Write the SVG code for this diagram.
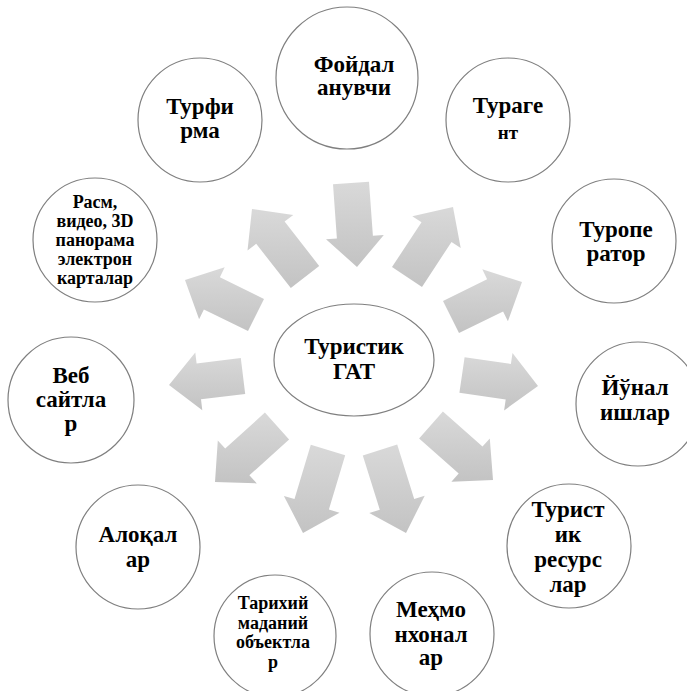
<svg xmlns="http://www.w3.org/2000/svg" width="687" height="691" viewBox="0 0 687 691">
<defs>
<linearGradient id="g" x1="0" y1="0" x2="0" y2="1">
<stop offset="0" stop-color="#d9d9d9"/>
<stop offset="1" stop-color="#c3c3c3"/>
</linearGradient>
</defs>
<style>
.n{fill:#fff;stroke:#7f7f7f;stroke-width:1.2}
.t{font-weight:bold;font-size:23px;fill:#000;text-anchor:middle}
.s{font-size:18px}
.h{font-size:19px}
.r{font-size:18px}
.a{fill:url(#g);stroke:none}
</style>
<rect width="687" height="691" fill="#fff"/>
<g id="connectors">
<polygon class="a" points="333.0,184.3 336.9,238.4 326.0,239.2 357,267 383.8,235.0 372.9,235.8 369.0,181.7"/>
<polygon class="a" points="422.0,286.9 451.5,242.0 460.7,248.0 453,207 412.3,216.2 421.5,222.2 392.0,267.1"/>
<polygon class="a" points="459.0,333.1 503.1,311.4 507.9,321.3 522,282 482.3,269.3 487.1,279.2 443.0,300.9"/>
<polygon class="a" points="459.4,392.8 505.7,399.5 504.1,410.4 538,386 512.5,353.0 510.9,363.9 464.6,357.2"/>
<polygon class="a" points="419.1,438.5 458.7,473.6 451.4,481.8 493,480 489.8,438.4 482.5,446.6 442.9,411.5"/>
<polygon class="a" points="362.8,455.4 379.8,509.8 369.3,513.1 406,533 424.7,495.7 414.2,499.0 397.2,444.6"/>
<polygon class="a" points="310.8,444.8 294.5,499.1 283.9,495.9 303,533 339.5,512.7 328.9,509.5 345.2,455.2"/>
<polygon class="a" points="264.9,412.6 225.2,448.5 217.8,440.4 215,482 256.8,483.4 249.4,475.3 289.1,439.4"/>
<polygon class="a" points="240.8,358.1 196.6,363.5 195.3,352.6 169,385 202.3,410.2 201.0,399.3 245.2,393.9"/>
<polygon class="a" points="264.0,298.9 219.9,277.2 224.7,267.3 185,280 199.1,319.3 203.9,309.4 248.0,331.1"/>
<polygon class="a" points="319.2,265.9 284.6,221.6 293.3,214.9 252,209 247.5,250.5 256.2,243.8 290.8,288.1"/>
</g>
<g font-family="'Liberation Serif', 'Times New Roman', Times, serif">
<g id="center">
<ellipse class="n" cx="354" cy="360" rx="80" ry="56"/>
<text class="t" x="354" y="354">Туристик</text>
<text class="t" x="354" y="379">ГАТ</text>
</g>
<g id="foydalanuvchi">
<circle class="n" cx="347" cy="78" r="71"/>
<text class="t" x="354" y="72">Фойдал</text>
<text class="t" x="354" y="95">анувчи</text>
</g>
<g id="turagent">
<circle class="n" cx="508" cy="120" r="62"/>
<text class="t" x="508" y="113">Тураге</text>
<text class="t h" x="508" y="139">нт</text>
</g>
<g id="turoperator">
<circle class="n" cx="614" cy="241" r="62"/>
<text class="t" x="616" y="237">Туропе</text>
<text class="t" x="616" y="261">ратор</text>
</g>
<g id="yonalishlar">
<circle class="n" cx="638" cy="404" r="62"/>
<text class="t" x="635" y="395">Йўнал</text>
<text class="t" x="635" y="420">ишлар</text>
</g>
<g id="turistik-resurslar">
<circle class="n" cx="569" cy="546" r="62"/>
<text class="t" x="568" y="517">Турист</text>
<text class="t" x="568" y="542">ик</text>
<text class="t" x="568" y="567">ресурс</text>
<text class="t" x="568" y="592">лар</text>
</g>
<g id="mehmonxonalar">
<circle class="n" cx="432" cy="634" r="62"/>
<text class="t" x="431" y="617">Меҳмо</text>
<text class="t" x="431" y="642">нхонал</text>
<text class="t" x="431" y="665">ар</text>
</g>
<g id="tarixiy">
<circle class="n" cx="275" cy="636" r="61"/>
<text class="t s" x="273" y="609">Тарихий</text>
<text class="t s" x="273" y="629">маданий</text>
<text class="t s" x="273" y="648">объектла</text>
<text class="t s" x="273" y="668">р</text>
</g>
<g id="aloqalar">
<circle class="n" cx="138" cy="547" r="62"/>
<text class="t" x="138" y="542">Алоқал</text>
<text class="t" x="138" y="567">ар</text>
</g>
<g id="veb-saytlar">
<circle class="n" cx="71" cy="400" r="63"/>
<text class="t" x="71" y="383">Веб</text>
<text class="t" x="71" y="407">сайтла</text>
<text class="t" x="71" y="431">р</text>
</g>
<g id="rasm">
<circle class="n" cx="95" cy="240" r="62"/>
<text class="t r" x="95" y="208">Расм,</text>
<text class="t r" x="95" y="227">видео, 3D</text>
<text class="t r" x="95" y="246">панорама</text>
<text class="t r" x="95" y="265">электрон</text>
<text class="t r" x="95" y="284">карталар</text>
</g>
<g id="turfirma">
<circle class="n" cx="200" cy="120" r="62"/>
<text class="t" x="200" y="114">Турфи</text>
<text class="t" x="200" y="138">рма</text>
</g>
</g>
</svg>
